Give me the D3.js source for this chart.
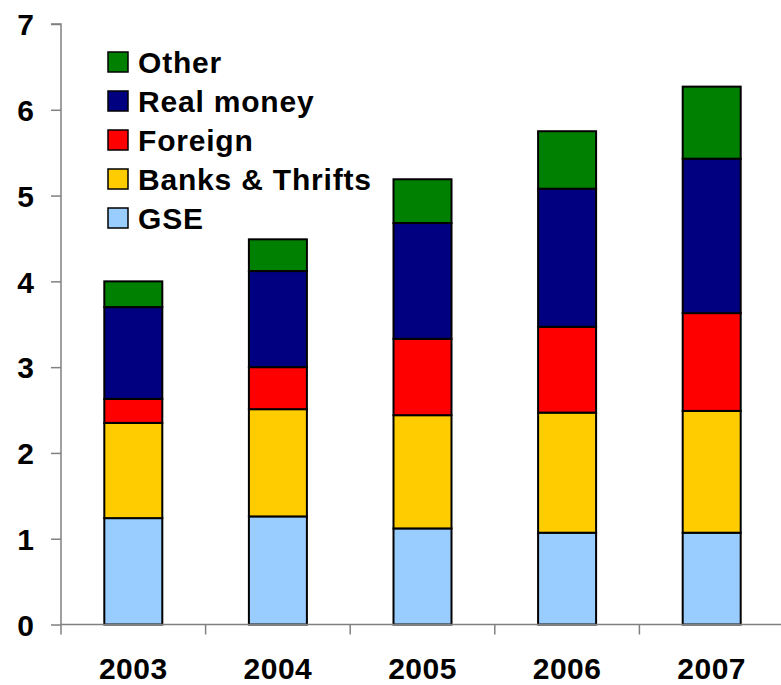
<!DOCTYPE html>
<html>
<head>
<meta charset="utf-8">
<script src="https://cdn.jsdelivr.net/npm/d3@7"></script>
<style>
  html, body { margin: 0; padding: 0; background: #fff; }
  svg { display: block; font-family: "Liberation Sans", Arial, sans-serif; font-weight: bold; }
</style>
</head>
<body>
<svg id="chart" width="781" height="685"></svg>
<script>
// Holdings by investor type, stacked per year
const years = ["2003", "2004", "2005", "2006", "2007"];
const seriesNames = ["GSE", "Banks & Thrifts", "Foreign", "Real money", "Other"];
const gse          = [1.24, 1.26, 1.12, 1.07, 1.07];
const banksThrifts = [1.11, 1.25, 1.32, 1.40, 1.42];
const foreign      = [0.28, 0.49, 0.89, 1.00, 1.14];
const realMoney    = [1.07, 1.12, 1.35, 1.61, 1.80];
const other        = [0.30, 0.37, 0.51, 0.67, 0.84];
const yTicks = [0, 1, 2, 3, 4, 5, 6, 7];
const colors = ["#99CCFF", "#FFCC00", "#FF0000", "#000080", "#008000"];

const seriesValues = [gse, banksThrifts, foreign, realMoney, other];
const rows = years.map((yr, i) => {
  const r = { year: yr };
  seriesNames.forEach((s, k) => { r[s] = seriesValues[k][i]; });
  return r;
});

const svg = d3.select("#chart");
const plotLeft = 61, plotRight = 784, plotTop = 24, plotBottom = 624.5;

const x = d3.scaleBand().domain(years).range([plotLeft, plotRight]).paddingInner(0).paddingOuter(0);
const y = d3.scaleLinear().domain([0, 7]).range([plotBottom, plotTop]);
const barW = 58;

const stacked = d3.stack().keys(seriesNames)(rows);

// Bars
const layers = svg.append("g").selectAll("g")
  .data(stacked)
  .join("g")
  .attr("fill", (d, i) => colors[i]);

layers.selectAll("rect")
  .data(d => d)
  .join("rect")
  .attr("x", d => x(d.data.year) + x.bandwidth() / 2 - barW / 2)
  .attr("y", d => y(d[1]))
  .attr("width", barW)
  .attr("height", d => y(d[0]) - y(d[1]))
  .attr("stroke", "#000")
  .attr("stroke-width", 2);

// Y axis
const yAxis = svg.append("g")
  .attr("transform", `translate(${plotLeft},0)`)
  .call(d3.axisLeft(y).tickValues(yTicks).tickFormat(d3.format("d")).tickSize(10).tickPadding(17));
yAxis.select(".domain").attr("stroke", "#808080").attr("stroke-width", 1.5).attr("d", `M-10,${plotTop}H0V${plotBottom}`);
yAxis.selectAll(".tick line").attr("stroke", "#808080").attr("stroke-width", 1.5);
yAxis.selectAll(".tick text")
  .attr("fill", "#000")
  .style("font-size", "30px")
  .style("font-weight", "bold")
  .style("font-family", "'Liberation Sans', Arial, sans-serif")
  .attr("dy", "0.36em");

// X axis with tick marks at category boundaries
const xg = svg.append("g").attr("transform", `translate(0,${plotBottom})`);
xg.append("line")
  .attr("x1", plotLeft).attr("x2", 781)
  .attr("stroke", "#808080").attr("stroke-width", 1.5);
xg.append("line")
  .attr("x1", plotLeft).attr("x2", plotLeft).attr("y1", 0).attr("y2", 10)
  .attr("stroke", "#808080").attr("stroke-width", 1.5);
xg.selectAll("line.bound")
  .data(years.slice(1))
  .join("line")
  .attr("class", "bound")
  .attr("x1", d => x(d)).attr("x2", d => x(d))
  .attr("y1", 0).attr("y2", 10)
  .attr("stroke", "#808080").attr("stroke-width", 1.5);
xg.selectAll("text")
  .data(years)
  .join("text")
  .attr("x", d => x(d) + x.bandwidth() / 2)
  .attr("y", 54)
  .attr("text-anchor", "middle")
  .style("font-size", "30px")
  .style("letter-spacing", "0.5px")
  .text(d => d);

// Legend (top item is the top of the stack)
const legendItems = seriesNames.map((s, i) => ({ name: s, color: colors[i] })).reverse();
const legend = svg.append("g").attr("transform", "translate(108,52)");
const item = legend.selectAll("g")
  .data(legendItems)
  .join("g")
  .attr("transform", (d, i) => `translate(0,${i * 39})`);
item.append("rect")
  .attr("width", 20).attr("height", 20)
  .attr("fill", d => d.color)
  .attr("stroke", "#000").attr("stroke-width", 1.5);
item.append("text")
  .attr("x", 30).attr("y", 20.5)
  .style("font-size", "30px")
  .style("letter-spacing", "0.8px")
  .text(d => d.name);
</script>
</body>
</html>
